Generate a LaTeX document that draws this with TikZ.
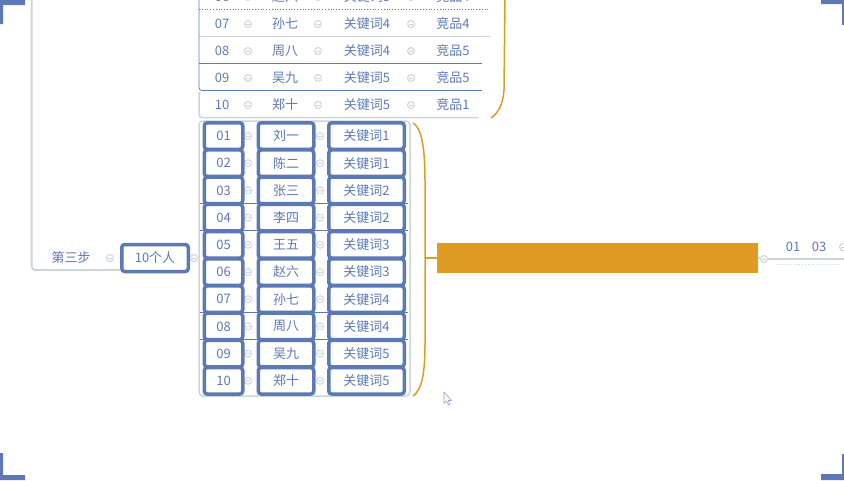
\documentclass[tikz,border=0pt]{standalone}
\usepackage{fontspec}
\setmainfont{Noto Sans CJK SC}
\definecolor{mapblue}{RGB}{92,121,181}
\definecolor{mapgray}{RGB}{204,214,217}
\definecolor{maporange}{RGB}{224,155,36}
\begin{document}
\begin{tikzpicture}[x=1pt,y=-1pt,
  txt/.style={text=mapblue,inner sep=0pt,font=\fontsize{13}{15}\selectfont},
  cell/.style={txt,draw=mapblue,line width=3.5pt,rounded corners=3pt,fill=white,minimum height=26.5pt},
  fold/.style={circle,draw=mapgray,line width=1pt,fill=white,inner sep=0pt,minimum size=7pt,
    path picture={\draw[mapgray,line width=.8pt] ([xshift=-2pt]path picture bounding box.center) -- ([xshift=2pt]path picture bounding box.center);}},
  link/.style={mapgray,line width=2pt,rounded corners=4pt},
  rule/.style={mapblue,line width=.8pt},
  brace/.style={maporange,line width=1.5pt}]
\useasboundingbox (0,0) rectangle (844,480);
\clip (0,0) rectangle (844,480);
% corner marks
\fill[mapblue] (0,0) -- (25,0) -- (25,5) -- (3,5) -- (3,24) -- (0,24) -- cycle;
\fill[mapblue] (844,0) -- (821,0) -- (821,4) -- (842,4) -- (842,25) -- (844,25) -- cycle;
\fill[mapblue] (0,480) -- (25,480) -- (25,475) -- (3,475) -- (3,453) -- (0,453) -- cycle;
\fill[mapblue] (844,480) -- (821,480) -- (821,474) -- (842,474) -- (842,454) -- (844,454) -- cycle;
% upper table (earlier step)
\draw[rule,dotted] (199,9) -- (490,9);
\draw[mapgray,line width=1.5pt] (199,36.5) -- (490,36.5);
\draw[rule] (199,63.5) -- (482,63.5);
\draw[rule,rounded corners=3pt] (199,0) -- (199,90.5) -- (482,90.5);
\draw[mapgray,line width=1.5pt,rounded corners=3pt] (199,92) -- (199,117.5) -- (478,117.5);
\draw[brace] (505,0) -- (504,90) .. controls (503,105) and (498,113) .. (491,118);
\foreach \n/\who/\key/\prod [count=\i from 6] in {06/赵六/关键词3/竞品4,07/孙七/关键词4/竞品4,08/周八/关键词4/竞品5,09/吴九/关键词5/竞品5,10/郑十/关键词5/竞品1}{
  \pgfmathsetmacro\yy{-3+27*(\i-6)}
  \node[txt] (un\i) at (222,\yy) {\n};
  \node[fold] (ua\i) at (248,\yy) {};
  \node[txt] (uw\i) at (285,\yy) {\who};
  \node[fold] (ub\i) at (318,\yy) {};
  \node[txt] (uk\i) at (367,\yy) {\key};
  \node[fold] (uc\i) at (411,\yy) {};
  \node[txt] (up\i) at (453,\yy) {\prod};
}
% step three
\node[txt] (step) at (71,258) {第三步};
\node[fold] (fs) at (110,258) {};
\node[cell,minimum width=66.5pt,minimum height=27pt] (people) at (155,258) {10个人};
\node[fold] (fp) at (194,258) {};
\coordinate (root) at (31.5,0);
\coordinate (bend) at (31.5,270);
\draw[link] (root) -- (bend) -- (bend -| people.west);
% lower table
\draw[mapgray,line width=1.5pt,rounded corners=4pt] (199,121) rectangle (410,396);
\foreach \yy in {203.5,230.5,312.5,339.5}
  \draw[rule] (200,\yy) -- (408,\yy);
\foreach \n/\who/\key [count=\i] in {01/刘一/关键词1,02/陈二/关键词1,03/张三/关键词2,04/李四/关键词2,05/王五/关键词3,06/赵六/关键词3,07/孙七/关键词4,08/周八/关键词4,09/吴九/关键词5,10/郑十/关键词5}{
  \pgfmathsetmacro\yy{136+27.2*(\i-1)}
  \node[fold] (la\i) at (248,\yy) {};
  \node[fold] (lb\i) at (320,\yy) {};
  \node[cell,minimum width=38.5pt] (num\i) at (223.5,\yy) {\n};
  \node[cell,minimum width=55.5pt] (who\i) at (286,\yy) {\who};
  \node[cell,minimum width=75.5pt] (key\i) at (366.5,\yy) {\key};
}
% brace and bar
\draw[brace] (413,123) .. controls (422,128) and (425,150) .. (425,180) -- (425,345) .. controls (425,372) and (422,390) .. (413,396);
\node[fill=maporange,minimum width=321pt,minimum height=30pt,inner sep=0pt] (bar) at (597.5,258) {};
\draw[brace] (425,258) -- (bar.west);
\node[fold] (fb) at (764,259) {};
\coordinate (edge) at (844,259);
\draw[link] (bar.east) -- (fb) -- (edge);
\draw[mapgray,line width=.8pt,dotted] (777,264) -- (840,264);
\node[txt] (k1) at (793,247) {01};
\node[txt] (k3) at (819,247) {03};
\node[fold] (fk) at (843,247) {};
% cursor
\draw[mapblue!70,fill=white,line width=.6pt,line join=round] (444,392) -- (444,403.5) -- (446.5,401) -- (448.5,405) -- (450,404.3) -- (448.2,400.5) -- (451.5,400.5) -- cycle;
\end{tikzpicture}
\end{document}
